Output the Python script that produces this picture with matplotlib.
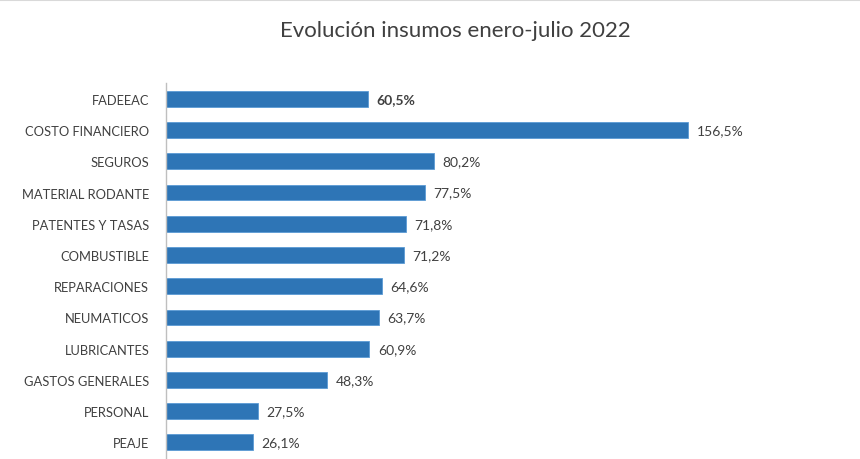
import matplotlib
matplotlib.use("Agg")
import matplotlib.pyplot as plt
from matplotlib.lines import Line2D

categories = ["FADEEAC", "COSTO FINANCIERO", "SEGUROS", "MATERIAL RODANTE",
              "PATENTES Y TASAS", "COMBUSTIBLE", "REPARACIONES", "NEUMATICOS",
              "LUBRICANTES", "GASTOS GENERALES", "PERSONAL", "PEAJE"]
values = [60.5, 156.5, 80.2, 77.5, 71.8, 71.2, 64.6, 63.7, 60.9, 48.3, 27.5, 26.1]
labels = ["60,5%", "156,5%", "80,2%", "77,5%", "71,8%", "71,2%", "64,6%",
          "63,7%", "60,9%", "48,3%", "27,5%", "26,1%"]
title = "Evolución insumos enero-julio 2022"

plt.rcParams['font.family'] = ['Lato', 'DejaVu Sans']
txt = "#404040"

fig = plt.figure(figsize=(8.6, 4.6), dpi=100)
ax = fig.add_axes([0.193, 0.002, 0.776, 0.815])
ypos = list(range(len(categories)))
ax.barh(ypos, values, height=0.51, color="#2E75B6", edgecolor="#5B9BD5", linewidth=0.6)
ax.set_ylim(len(categories) - 0.5, -0.5)
ax.set_xlim(0, 200)
ax.set_yticks(ypos)
ax.set_yticklabels(categories, fontsize=9.3, color=txt)
ax.tick_params(axis='y', length=0, pad=12)
ax.set_xticks([])
for s in ["top", "right", "bottom"]:
    ax.spines[s].set_visible(False)
ax.spines["left"].set_color("#BFBFBF")
ax.spines["left"].set_linewidth(1.0)

for i, (v, l) in enumerate(zip(values, labels)):
    ax.text(v + 2.6, i, l, va="center", ha="left", fontsize=10, color=txt,
            fontweight="bold" if i == 0 else "normal")

fig.text(0.53, 0.932, title, ha="center", va="center", fontsize=16, color=txt)
fig.add_artist(Line2D([0, 1], [0.998, 0.998], transform=fig.transFigure,
                      color="#D9D9D9", linewidth=1.5))
fig.savefig("out.png", dpi=100, facecolor="white")
